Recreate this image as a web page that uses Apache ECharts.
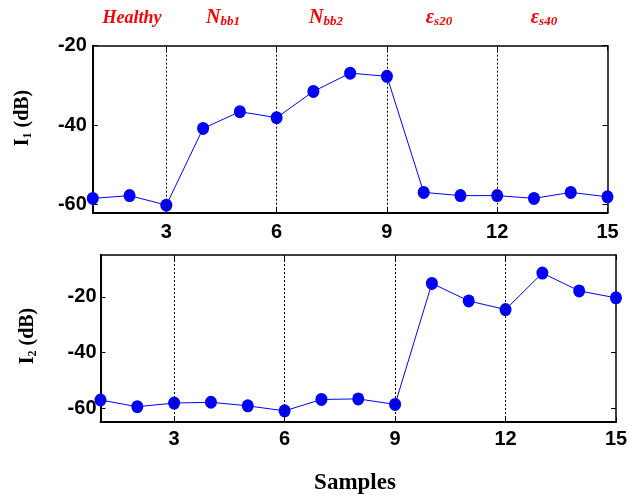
<!DOCTYPE html>
<html><head><meta charset="utf-8">
<script src="https://cdn.jsdelivr.net/npm/echarts@6/dist/echarts.min.js"></script>
<style>html,body{margin:0;padding:0;background:#fff}#c{width:627px;height:497px}</style>
</head><body><div id="c"></div>
<script>
const samples = [1,2,3,4,5,6,7,8,9,10,11,12,13,14,15];
const i1 = [-58.4,-57.7,-60.1,-40.8,-36.6,-38.1,-31.5,-26.9,-27.7,-56.9,-57.7,-57.7,-58.4,-56.9,-58.0];
const i2 = [-57.1,-59.5,-58.2,-57.9,-59.2,-61.0,-56.9,-56.7,-58.7,-15.2,-21.5,-24.6,-11.5,-17.9,-20.4];
const xTicks = [3,6,9,12,15];
const dividers = [3,6,9,12];
const y1Ticks = [-60,-40,-20];
const y2Ticks = [-60,-40,-20];
const groupLabels = ['{it|Healthy}','{m|N}{s|bb1}','{m|N}{s|bb2}','{m|ε}{s|s20}','{m|ε}{s|s40}'];
const groupCenters = [132,223,326,439,544];

const chart = echarts.init(document.getElementById('c'));
const tickFont = {fontFamily:'Liberation Sans',fontWeight:'bold',fontSize:20,color:'#000'};
function xAx(grid, pos, labels, margin){
  return {type:'value',gridIndex:grid,position:pos,min:1,max:15,
    axisLine:{show:true,onZero:false,lineStyle:{color:'#000',width:pos==='bottom'?2:1.5}},
    axisTick:{show:true,inside:true,length:5,customValues:xTicks,lineStyle:{color:'#000'}},
    axisLabel:{show:labels,customValues:xTicks,margin:margin,...tickFont},
    splitLine:{show:false}};
}
function yAx(grid,pos,labels,min,max,ticks,margin){
  return {type:'value',gridIndex:grid,position:pos,min:min,max:max,
    axisLine:{show:true,onZero:false,lineStyle:{color:'#000',width:pos==='left'?2:1.5}},
    axisTick:{show:true,inside:true,length:5,customValues:ticks,lineStyle:{color:'#000'}},
    axisLabel:{show:labels,customValues:ticks,margin:margin,...tickFont},
    splitLine:{show:false}};
}
function series(xi,yi,vals){
  return {type:'line',xAxisIndex:xi,yAxisIndex:yi,data:samples.map((s,k)=>[s,vals[k]]),
    symbol:'circle',symbolSize:[12,13],clip:false,
    itemStyle:{color:'#0000ff'},lineStyle:{color:'#0000ff',width:1},
    markLine:{silent:true,symbol:'none',label:{show:false},animation:false,
      lineStyle:{color:'#000',type:[2,2],width:1},data:dividers.map(d=>({xAxis:d}))}};
}
chart.setOption({
  animation:false,
  grid:[
    {left:92.8,top:45.7,width:514.7,height:167,containLabel:false,outerBoundsMode:'none'},
    {left:100.5,top:255,width:515.5,height:167,containLabel:false,outerBoundsMode:'none'}
  ],
  xAxis:[xAx(0,'bottom',true,10),xAx(0,'top',false,0),xAx(1,'bottom',true,7),xAx(1,'top',false,0)],
  yAxis:[yAx(0,'left',true,-62,-20,y1Ticks,6),yAx(0,'right',false,-62,-20,y1Ticks,0),
         yAx(1,'left',true,-65,-5,y2Ticks,4),yAx(1,'right',false,-65,-5,y2Ticks,0)],
  series:[series(0,0,i1),series(2,2,i2)],
  graphic:[
    ...groupLabels.map((t,k)=>({type:'text',x:groupCenters[k],y:18,style:{text:t,align:'center',verticalAlign:'middle',
      fill:'#ff0000',rich:{
        it:{fontFamily:'Liberation Serif',fontStyle:'italic',fontWeight:'bold',fontSize:18,fill:'#ff0000',lineHeight:20},
        m:{fontFamily:'Liberation Serif',fontStyle:'italic',fontWeight:'bold',fontSize:20,fill:'#ff0000',lineHeight:20},
        s:{fontFamily:'Liberation Serif',fontStyle:'italic',fontWeight:'bold',fontSize:13,fill:'#ff0000',lineHeight:15,verticalAlign:'bottom'}
      }}})),
    {type:'text',x:22.5,y:118,rotation:Math.PI/2,style:{text:'{m|I}{s|1}{m| (dB)}',align:'center',verticalAlign:'middle',
      rich:{m:{fontFamily:'Liberation Serif',fontWeight:'bold',fontSize:20,fill:'#000',lineHeight:22},
            s:{fontFamily:'Liberation Serif',fontWeight:'bold',fontSize:12,fill:'#000',lineHeight:14,verticalAlign:'bottom'}}}},
    {type:'text',x:27.5,y:336,rotation:Math.PI/2,style:{text:'{m|I}{s|2}{m| (dB)}',align:'center',verticalAlign:'middle',
      rich:{m:{fontFamily:'Liberation Serif',fontWeight:'bold',fontSize:20,fill:'#000',lineHeight:22},
            s:{fontFamily:'Liberation Serif',fontWeight:'bold',fontSize:12,fill:'#000',lineHeight:14,verticalAlign:'bottom'}}}},
    {type:'text',x:355,y:483,style:{text:'Samples',align:'center',verticalAlign:'middle',
      font:'bold 23px "Liberation Serif"',fill:'#000'}}
  ]
});
</script></body></html>
